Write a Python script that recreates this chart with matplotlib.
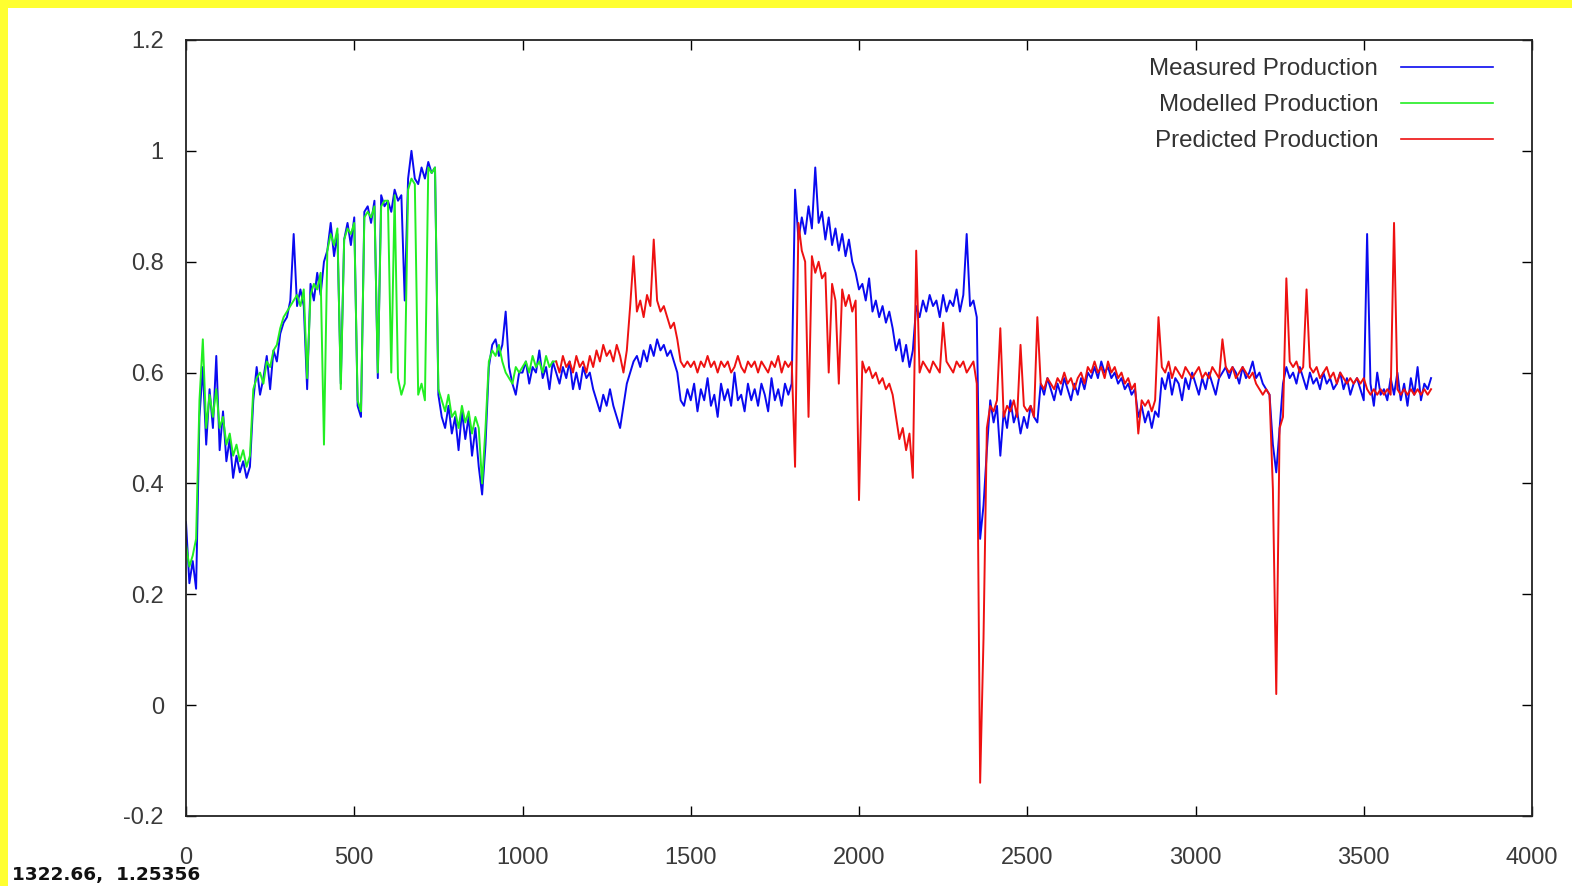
import numpy as np
import matplotlib
matplotlib.use("Agg")
import matplotlib.pyplot as plt
from matplotlib.patches import Rectangle

plt.rcParams['axes.unicode_minus'] = False

# samples every 10 time steps
step = 10

# measured production, x = 0 .. 3700
measured = [
    0.33, 0.22, 0.26, 0.21, 0.52, 0.61, 0.47, 0.57, 0.50, 0.63,   # 0
    0.46, 0.53, 0.44, 0.48, 0.41, 0.45, 0.42, 0.44, 0.41, 0.43,   # 100
    0.55, 0.61, 0.56, 0.59, 0.63, 0.57, 0.64, 0.62, 0.67, 0.69,   # 200
    0.70, 0.73, 0.85, 0.72, 0.75, 0.72, 0.57, 0.76, 0.73, 0.78,   # 300
    0.74, 0.80, 0.82, 0.87, 0.81, 0.85, 0.58, 0.84, 0.87, 0.83,   # 400
    0.88, 0.54, 0.52, 0.89, 0.90, 0.87, 0.91, 0.59, 0.92, 0.90,   # 500
    0.91, 0.89, 0.93, 0.91, 0.92, 0.73, 0.95, 1.00, 0.95, 0.94,   # 600
    0.97, 0.95, 0.98, 0.96, 0.97, 0.56, 0.52, 0.50, 0.54, 0.49,   # 700
    0.52, 0.46, 0.53, 0.48, 0.52, 0.45, 0.50, 0.43, 0.38, 0.47,   # 800
    0.61, 0.65, 0.66, 0.63, 0.65, 0.71, 0.61, 0.58, 0.56, 0.60,   # 900
    0.60, 0.62, 0.58, 0.61, 0.60, 0.64, 0.59, 0.61, 0.57, 0.62,   # 1000
    0.60, 0.58, 0.61, 0.59, 0.62, 0.57, 0.60, 0.57, 0.61, 0.59,   # 1100
    0.60, 0.57, 0.55, 0.53, 0.56, 0.54, 0.57, 0.54, 0.52, 0.50,   # 1200
    0.54, 0.58, 0.60, 0.62, 0.63, 0.61, 0.64, 0.62, 0.65, 0.63,   # 1300
    0.66, 0.64, 0.65, 0.63, 0.64, 0.62, 0.60, 0.55, 0.54, 0.57,   # 1400
    0.55, 0.58, 0.53, 0.57, 0.55, 0.59, 0.54, 0.56, 0.52, 0.58,   # 1500
    0.55, 0.57, 0.54, 0.60, 0.55, 0.56, 0.53, 0.58, 0.55, 0.57,   # 1600
    0.54, 0.58, 0.56, 0.53, 0.59, 0.55, 0.57, 0.54, 0.58, 0.56,   # 1700
    0.58, 0.93, 0.84, 0.88, 0.85, 0.90, 0.86, 0.97, 0.87, 0.89,   # 1800
    0.84, 0.88, 0.83, 0.86, 0.82, 0.85, 0.81, 0.84, 0.80, 0.78,   # 1900
    0.75, 0.76, 0.73, 0.77, 0.71, 0.73, 0.70, 0.72, 0.69, 0.71,   # 2000
    0.68, 0.64, 0.66, 0.62, 0.65, 0.61, 0.64, 0.72, 0.70, 0.73,   # 2100
    0.71, 0.74, 0.72, 0.73, 0.70, 0.74, 0.71, 0.73, 0.72, 0.75,   # 2200
    0.71, 0.74, 0.85, 0.72, 0.73, 0.70, 0.30, 0.36, 0.46, 0.55,   # 2300
    0.51, 0.54, 0.45, 0.53, 0.50, 0.55, 0.51, 0.53, 0.49, 0.52,   # 2400
    0.50, 0.54, 0.52, 0.51, 0.58, 0.56, 0.59, 0.57, 0.55, 0.58,   # 2500
    0.56, 0.59, 0.57, 0.55, 0.58, 0.56, 0.59, 0.57, 0.60, 0.59,   # 2600
    0.61, 0.59, 0.62, 0.60, 0.61, 0.59, 0.60, 0.58, 0.59, 0.57,   # 2700
    0.58, 0.56, 0.57, 0.52, 0.54, 0.51, 0.53, 0.50, 0.53, 0.52,   # 2800
    0.59, 0.57, 0.60, 0.56, 0.59, 0.58, 0.55, 0.59, 0.57, 0.60,   # 2900
    0.58, 0.56, 0.59, 0.57, 0.60, 0.58, 0.56, 0.59, 0.60, 0.61,   # 3000
    0.59, 0.61, 0.60, 0.58, 0.61, 0.59, 0.60, 0.62, 0.59, 0.60,   # 3100
    0.58, 0.57, 0.56, 0.47, 0.42, 0.50, 0.58, 0.61, 0.59, 0.60,   # 3200
    0.58, 0.61, 0.59, 0.57, 0.60, 0.58, 0.59, 0.57, 0.60, 0.58,   # 3300
    0.59, 0.57, 0.58, 0.60, 0.57, 0.59, 0.56, 0.58, 0.59, 0.57,   # 3400
    0.55, 0.85, 0.58, 0.54, 0.60, 0.56, 0.57, 0.55, 0.59, 0.56,   # 3500
    0.60, 0.55, 0.58, 0.54, 0.59, 0.56, 0.61, 0.55, 0.58, 0.57, 0.59,  # 3600
]

# modelled production, x = 0 .. 1100
modelled = [
    0.29, 0.25, 0.27, 0.30, 0.55, 0.66, 0.50, 0.56, 0.52, 0.57,   # 0
    0.50, 0.52, 0.47, 0.49, 0.45, 0.47, 0.44, 0.46, 0.43, 0.45,   # 100
    0.57, 0.59, 0.60, 0.58, 0.62, 0.61, 0.64, 0.65, 0.68, 0.70,   # 200
    0.71, 0.72, 0.73, 0.74, 0.72, 0.75, 0.59, 0.74, 0.76, 0.75,   # 300
    0.78, 0.47, 0.82, 0.85, 0.83, 0.86, 0.57, 0.84, 0.86, 0.85,   # 400
    0.87, 0.55, 0.53, 0.88, 0.89, 0.88, 0.90, 0.60, 0.90, 0.91,   # 500
    0.91, 0.60, 0.92, 0.59, 0.56, 0.58, 0.93, 0.95, 0.94, 0.56,   # 600
    0.58, 0.55, 0.97, 0.96, 0.97, 0.57, 0.55, 0.53, 0.56, 0.52,   # 700
    0.53, 0.50, 0.54, 0.51, 0.53, 0.49, 0.52, 0.50, 0.40, 0.50,   # 800
    0.62, 0.64, 0.63, 0.65, 0.62, 0.60, 0.59, 0.58, 0.61, 0.60,   # 900
    0.61, 0.62, 0.60, 0.63, 0.61, 0.62, 0.60, 0.63, 0.61, 0.62, 0.62,  # 1000
]

# predicted production, x = 1100 .. 3700
predicted_start = 1100
predicted = [
    0.62, 0.60, 0.63, 0.61, 0.62, 0.60, 0.63, 0.61, 0.62, 0.60,   # 1100
    0.63, 0.61, 0.64, 0.62, 0.65, 0.63, 0.64, 0.62, 0.65, 0.63,   # 1200
    0.60, 0.64, 0.72, 0.81, 0.71, 0.73, 0.70, 0.74, 0.72, 0.84,   # 1300
    0.73, 0.71, 0.72, 0.70, 0.68, 0.69, 0.66, 0.62, 0.61, 0.62,   # 1400
    0.61, 0.62, 0.60, 0.62, 0.61, 0.63, 0.61, 0.62, 0.60, 0.62,   # 1500
    0.61, 0.62, 0.60, 0.61, 0.63, 0.61, 0.60, 0.62, 0.61, 0.62,   # 1600
    0.60, 0.62, 0.61, 0.60, 0.62, 0.61, 0.63, 0.60, 0.62, 0.61,   # 1700
    0.62, 0.43, 0.87, 0.82, 0.80, 0.52, 0.81, 0.78, 0.80, 0.77,   # 1800
    0.78, 0.60, 0.76, 0.73, 0.58, 0.75, 0.72, 0.74, 0.71, 0.73,   # 1900
    0.37, 0.62, 0.60, 0.61, 0.59, 0.60, 0.58, 0.59, 0.57, 0.58,   # 2000
    0.56, 0.52, 0.48, 0.50, 0.46, 0.49, 0.41, 0.82, 0.60, 0.62,   # 2100
    0.61, 0.60, 0.62, 0.61, 0.60, 0.69, 0.62, 0.61, 0.60, 0.62,   # 2200
    0.61, 0.62, 0.60, 0.61, 0.62, 0.58, -0.14, 0.12, 0.50, 0.54,  # 2300
    0.53, 0.55, 0.68, 0.52, 0.54, 0.53, 0.55, 0.52, 0.65, 0.54,   # 2400
    0.53, 0.54, 0.52, 0.70, 0.58, 0.57, 0.59, 0.58, 0.57, 0.59,   # 2500
    0.58, 0.60, 0.58, 0.59, 0.57, 0.59, 0.60, 0.58, 0.61, 0.60,   # 2600
    0.62, 0.60, 0.61, 0.59, 0.62, 0.60, 0.61, 0.59, 0.60, 0.58,   # 2700
    0.59, 0.57, 0.58, 0.49, 0.55, 0.54, 0.55, 0.53, 0.55, 0.70,   # 2800
    0.61, 0.60, 0.62, 0.59, 0.61, 0.60, 0.59, 0.61, 0.60, 0.59,   # 2900
    0.60, 0.61, 0.59, 0.60, 0.59, 0.61, 0.60, 0.59, 0.66, 0.61,   # 3000
    0.60, 0.61, 0.59, 0.60, 0.61, 0.60, 0.59, 0.60, 0.58, 0.57,   # 3100
    0.56, 0.57, 0.56, 0.39, 0.02, 0.50, 0.52, 0.77, 0.62, 0.61,   # 3200
    0.62, 0.60, 0.61, 0.75, 0.61, 0.60, 0.61, 0.59, 0.60, 0.61,   # 3300
    0.59, 0.60, 0.58, 0.60, 0.59, 0.58, 0.59, 0.58, 0.59, 0.58,   # 3400
    0.59, 0.57, 0.56, 0.57, 0.56, 0.57, 0.56, 0.57, 0.56, 0.87,   # 3500
    0.57, 0.56, 0.57, 0.56, 0.57, 0.56, 0.57, 0.56, 0.57, 0.56, 0.57,  # 3600
]

labels = ['Measured Production', 'Modelled Production', 'Predicted Production']
colors = ['#0a0af0', '#22ee22', '#ee1111']

x_meas = np.arange(len(measured)) * step
x_mod = np.arange(len(modelled)) * step
x_pred = predicted_start + np.arange(len(predicted)) * step

fig = plt.figure(figsize=(15.72, 8.86), dpi=100, facecolor='#ffff30')
# white canvas inside the yellow frame
fig.patches.append(Rectangle((8 / 1572, 0), 1, 1 - 8 / 886, transform=fig.transFigure,
                             facecolor='white', edgecolor='none', zorder=-10))

ax = fig.add_axes([186 / 1572, 1 - 816 / 886, (1532 - 186) / 1572, (816 - 40) / 886])
ax.plot(x_meas, measured, color=colors[0], lw=1.4, label=labels[0])
ax.plot(x_mod, modelled, color=colors[1], lw=1.4, label=labels[1])
ax.plot(x_pred, predicted, color=colors[2], lw=1.4, label=labels[2])

ax.set_xlim(0, 4000)
ax.set_ylim(-0.2, 1.2)
ax.set_xticks(np.arange(0, 4001, 500))
ax.set_yticks(np.arange(-0.2, 1.21, 0.2))
ax.set_yticklabels(['-0.2', '0', '0.2', '0.4', '0.6', '0.8', '1', '1.2'])

for s in ax.spines.values():
    s.set_linewidth(1.3)
    s.set_color('#222222')
ax.tick_params(direction='in', length=7, width=1, top=True, right=True,
               labelsize=17, labelcolor='#3a3a3a')
ax.tick_params(axis='y', pad=16)
ax.tick_params(axis='x', pad=22)
for t in ax.get_xticklabels() + ax.get_yticklabels():
    t.set_fontfamily('Liberation Sans')

leg = ax.legend(loc='upper right', bbox_to_anchor=(1493 / 1572, 1 - 58 / 886),
                bbox_transform=fig.transFigure, frameon=False, markerfirst=False,
                handlelength=3.8, handletextpad=0.95, labelspacing=0.58,
                borderpad=0, borderaxespad=0,
                prop={'family': 'Liberation Sans', 'size': 17.4})
for t in leg.get_texts():
    t.set_color('#333333')
for h in leg.get_lines():
    h.set_linewidth(1.2)

fig.text(12 / 1572, 1 - 880 / 886, '1322.66,  1.25356', fontsize=13.3,
         family='DejaVu Sans', weight='bold', color='#111111', va='baseline', ha='left')

fig.savefig('out.png', dpi=100, facecolor=fig.get_facecolor())
